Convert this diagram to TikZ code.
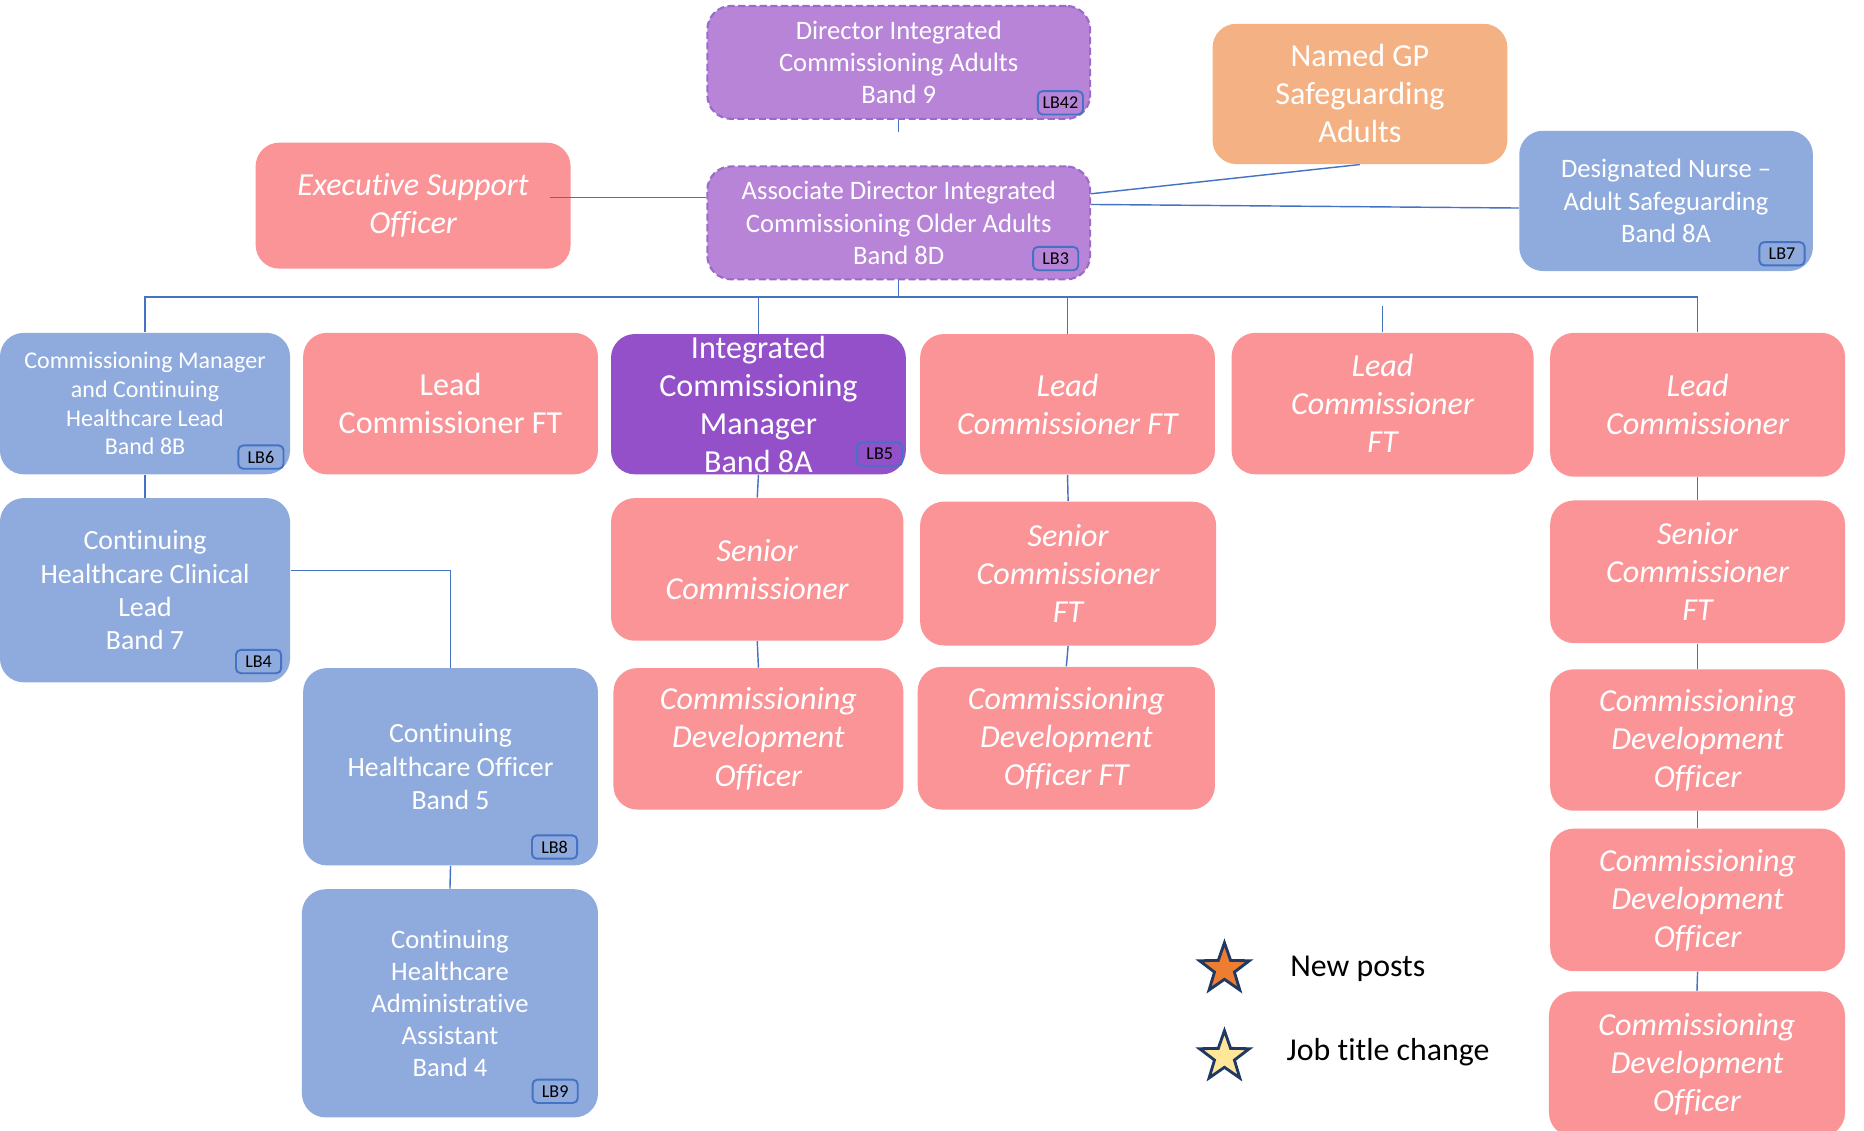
\documentclass[tikz,border=0pt]{standalone}
\usepackage{fontspec}
\setmainfont[Ligatures={NoCommon}]{Carlito}
\usetikzlibrary{shapes.geometric,calc}
\definecolor{lpurple}{HTML}{B784D8}
\definecolor{purpborder}{HTML}{9B6BCB}
\definecolor{dpurple}{HTML}{9350C8}
\definecolor{pinkc}{HTML}{FA9497}
\definecolor{bluec}{HTML}{8FAADC}
\definecolor{orangec}{HTML}{F4B183}
\definecolor{linec}{HTML}{4472C4}
\definecolor{starorange}{HTML}{ED7D31}
\definecolor{staryellow}{HTML}{FFE699}
\definecolor{starborder}{HTML}{1F3864}
\pgfdeclarelayer{bg}
\pgfsetlayers{bg,main}
\begin{document}
\begin{tikzpicture}[x=0.5pt,y=-0.5pt,
  box/.style={rounded corners=10pt, align=center, inner sep=0pt, text=white},
  fA/.style={font=\fontsize{11.2}{13.5}\selectfont},
  fB/.style={font=\fontsize{13.5}{16}\selectfont},
  fBi/.style={font=\fontsize{13.5}{16}\selectfont\itshape},
  fC/.style={font=\fontsize{10.1}{12}\selectfont},
  fD/.style={font=\fontsize{11.7}{14}\selectfont},
  dirbox/.style={box, fill=lpurple, draw=purpborder, dash pattern=on 3pt off 1.5pt, line width=0.9pt},
  pinkbox/.style={box, fill=pinkc},
  bluebox/.style={box, fill=bluec},
  orangebox/.style={box, fill=orangec},
  icmbox/.style={box, fill=dpurple},
  tag/.style={draw=linec, line width=0.8pt, rounded corners=2pt, inner sep=1pt, minimum width=19pt, minimum height=9.8pt, font=\fontsize{7.6}{8.5}\selectfont, text=black},
  conn/.style={draw=linec, line width=0.6pt},
  sz/.style 2 args={minimum width=#1pt, minimum height=#2pt},
  legendstar/.style={star, star points=5, star point ratio=2.5, minimum size=22pt, inner sep=0pt, draw=starborder, line width=1.2pt},
  legendtext/.style={anchor=west, inner sep=0pt, font=\fontsize{13.4}{16}\selectfont, text=black}
]
\useasboundingbox (0,0) rectangle (1568,951);

% top
\node[dirbox, fA, sz={161}{47.5}] (dir) at (756,52.5) {Director Integrated\\Commissioning Adults\\Band 9};
\node[dirbox, fA, sz={161}{47.5}] (assoc) at (756,187.5) {Associate Director Integrated\\Commissioning Older Adults\\Band 8D};
\node[pinkbox, fBi, sz={132.5}{53}] (exec) at (347.5,173) {Executive Support\\Officer};
\node[orangebox, fB, sz={124}{59}] (gp) at (1144,79) {Named GP\\Safeguarding\\Adults};
\node[bluebox, fA, sz={123.5}{59}] (nurse) at (1401.5,169) {Designated Nurse --\\Adult Safeguarding\\Band 8A};

% row 2
\node[bluebox, fC, sz={122}{59.5}] (cm) at (122,339.5) {Commissioning Manager\\and Continuing\\Healthcare Lead\\Band 8B};
\node[pinkbox, fB, sz={124}{59.5}] (lead1) at (379,339.5) {Lead\\Commissioner FT};
\node[icmbox, fB, sz={124}{59}] (icm) at (638,340) {Integrated\\Commissioning\\Manager\\Band 8A};
\node[pinkbox, fBi, sz={124}{59}] (lead2) at (898,340) {Lead\\Commissioner FT};
\node[pinkbox, fBi, sz={127}{59.5}] (lead3) at (1163,339.5) {Lead\\Commissioner\\FT};
\node[pinkbox, fBi, sz={124}{60.5}] (leadc) at (1428,340.5) {Lead\\Commissioner};

% row 3
\node[bluebox, fD, sz={122}{77.5}] (chc) at (122,496.5) {Continuing\\Healthcare Clinical\\Lead\\Band 7};
\node[pinkbox, fBi, sz={123}{60}] (sc1) at (637,479) {Senior\\Commissioner};
\node[pinkbox, fBi, sz={124.5}{60.5}] (sc2) at (898.5,482.5) {Senior\\Commissioner\\FT};
\node[pinkbox, fBi, sz={124}{60}] (sc3) at (1428,481) {Senior\\Commissioner\\FT};

% row 4
\node[bluebox, fD, sz={124}{83}] (chco) at (379,645) {Continuing\\Healthcare Officer\\Band 5};
\node[pinkbox, fBi, sz={122}{59.5}] (cdo1) at (638,621.5) {Commissioning\\Development\\Officer};
\node[pinkbox, fBi, sz={125}{60}] (cdo2) at (897,621) {Commissioning\\Development\\Officer FT};
\node[pinkbox, fBi, sz={124}{59.5}] (cdo3) at (1428,622.5) {Commissioning\\Development\\Officer};

% row 5
\node[bluebox, fA, sz={124.5}{96}] (adm) at (378.5,844) {Continuing\\Healthcare\\Administrative\\Assistant\\Band 4};
\node[pinkbox, fBi, sz={124}{60}] (cdo4) at (1428,757) {Commissioning\\Development\\Officer};
\node[pinkbox, fBi, sz={124.5}{61}] (cdo5) at (1427.5,895) {Commissioning\\Development\\Officer};

% tags
\node[tag] (t42) at (892,86.5) {LB42};
\node[tag] (t3) at (888,217.5) {LB3};
\node[tag] (t7) at (1499,213.5) {LB7};
\node[tag] (t6) at (219.5,384.5) {LB6};
\node[tag] (t5) at (740,382) {LB5};
\node[tag] (t4) at (217.5,556.5) {LB4};
\node[tag] (t8) at (466.5,712.5) {LB8};
\node[tag] (t9) at (467,918) {LB9};

% connectors
\begin{pgfonlayer}{bg}
\coordinate (dstub) at ($(dir.south)+(0,10)$);
\draw[conn] (dir.south) -- (dstub);
\coordinate (bus) at (756,250);
\draw[conn] (assoc.south) -- (bus);
\draw[conn] (cm.north) |- (bus) -| (leadc.north);
\draw[conn] (icm.north) -- (icm.north |- bus);
\draw[conn] (lead2.north) -- (lead2.north |- bus);
\coordinate (l3stub) at ($(lead3.north)+(0,-22)$);
\draw[conn] (lead3.north) -- (l3stub);
\draw[conn] ($(assoc.east)+(0,-24.5)$) -- (gp.south);
\draw[conn] ($(assoc.east)+(0,-15.5)$) -- ($(nurse.west)+(0,6)$);
\draw[conn] (cm.south) -- (chc.north);
\draw[conn] ($(chc.east)+(0,-16.5)$) -| (chco.north);
\draw[conn] (chco.south) -- (adm.north);
\draw[conn] (icm.south) -- (sc1.north);
\draw[conn] (sc1.south) -- (cdo1.north);
\draw[conn] (lead2.south) -- (sc2.north);
\draw[conn] (sc2.south) -- (cdo2.north);
\draw[conn] (leadc.south) -- (sc3.north);
\draw[conn] (sc3.south) -- (cdo3.north);
\draw[conn] (cdo3.south) -- (cdo4.north);
\draw[conn] (cdo4.south) -- (cdo5.north);
\end{pgfonlayer}
\draw[conn] ($(exec.east)+(-18,-7)$) -- ($(assoc.west)+(0,-21.5)$);

% legend
\node[legendstar, fill=starorange] (s1) at (1030,815) {};
\node[legendtext] (l1) at (1085,815) {New posts};
\node[legendstar, fill=staryellow] (s2) at (1030,889) {};
\node[legendtext] (l2) at (1082,885) {Job title change};
\end{tikzpicture}
\end{document}
